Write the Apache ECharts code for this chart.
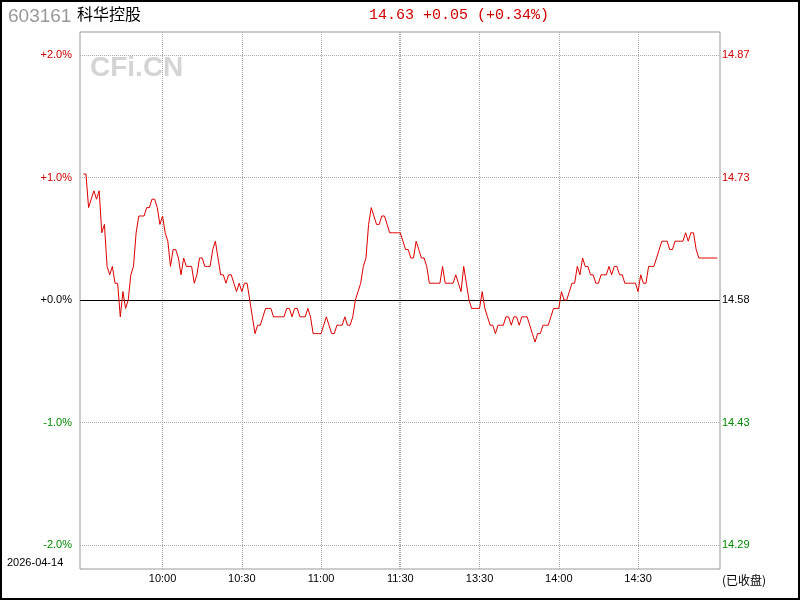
<!DOCTYPE html>
<html>
<head>
<meta charset="utf-8">
<script src="https://cdn.jsdelivr.net/npm/echarts@6/dist/echarts.min.js"></script>
<style>html,body{margin:0;padding:0;background:#fff;}#c{width:800px;height:600px;}</style>
</head>
<body>
<div id="c"></div>
<script>
// ---- data ----
var stockCode = '603161';
var stockName = '科华控股';
var tradeDate = '2026-04-14';
var prevClose = 14.58;
var lastPrice = 14.63;
var statusText = '(已收盘)';

// minute prices 09:30 - 11:30 (121 points)
var morningPrices = [
  14.73,14.73,14.69,14.70,14.71,14.70,14.71,14.66,14.67,14.62,
  14.61,14.62,14.60,14.60,14.56,14.59,14.57,14.58,14.61,14.62,
  14.66,14.68,14.68,14.68,14.69,14.69,14.70,14.70,14.69,14.67,
  14.68,14.66,14.65,14.62,14.64,14.64,14.63,14.61,14.63,14.62,
  14.62,14.62,14.60,14.61,14.63,14.63,14.62,14.62,14.62,14.64,
  14.65,14.63,14.61,14.61,14.60,14.61,14.61,14.60,14.59,14.60,
  14.59,14.60,14.60,14.58,14.56,14.54,14.55,14.55,14.56,14.57,
  14.57,14.57,14.56,14.56,14.56,14.56,14.56,14.57,14.57,14.56,
  14.57,14.57,14.56,14.56,14.56,14.57,14.56,14.54,14.54,14.54,
  14.54,14.55,14.56,14.55,14.54,14.54,14.55,14.55,14.55,14.56,
  14.55,14.55,14.56,14.58,14.59,14.60,14.62,14.63,14.67,14.69,
  14.68,14.67,14.67,14.68,14.68,14.67,14.66,14.66,14.66,14.66,
  14.66
];
// minute prices 13:01 - 15:00 (120 points)
var afternoonPrices = [
  14.65,14.64,14.64,14.63,14.63,14.65,14.64,14.63,14.63,14.62,
  14.60,14.60,14.60,14.60,14.60,14.62,14.60,14.60,14.60,14.60,
  14.61,14.60,14.59,14.62,14.60,14.58,14.57,14.57,14.57,14.57,
  14.59,14.57,14.56,14.55,14.55,14.54,14.55,14.55,14.55,14.56,
  14.56,14.55,14.56,14.56,14.55,14.56,14.56,14.56,14.55,14.54,
  14.53,14.54,14.54,14.55,14.55,14.55,14.56,14.57,14.57,14.57,
  14.59,14.58,14.58,14.59,14.60,14.60,14.62,14.61,14.63,14.62,
  14.62,14.61,14.61,14.60,14.60,14.61,14.61,14.61,14.62,14.61,
  14.62,14.62,14.61,14.61,14.60,14.60,14.60,14.60,14.60,14.59,
  14.61,14.60,14.60,14.62,14.62,14.62,14.63,14.64,14.65,14.65,
  14.65,14.64,14.64,14.65,14.65,14.65,14.65,14.66,14.65,14.66,
  14.66,14.64,14.63,14.63,14.63,14.63,14.63,14.63,14.63,14.63
];

var xTickValues = [30, 60, 90, 120, 150, 180, 210];
var xTickLabels = ['10:00', '10:30', '11:00', '11:30', '13:30', '14:00', '14:30'];
var xGridValues = [30, 60, 90, 119.62, 120, 150, 180, 210];

var pctTickValues = [2, 1, 0, -1, -2];
var pctTickLabels = ['+2.0%', '+1.0%', '+0.0%', '-1.0%', '-2.0%'];
var priceTickLabels = ['14.87', '14.73', '14.58', '14.43', '14.29'];
var gridPctValues = [2, 1, -1, -2];

// ---- build ----
var RED = '#d00000', GREEN = '#008800';
var allPrices = morningPrices.concat(afternoonPrices);
var seriesData = allPrices.map(function (p, i) {
  return [i, (p - prevClose) / prevClose * 100];
});
function tickColor(v) { return v > 0 ? RED : (v < 0 ? GREEN : '#000'); }
function idxOf(arr, v) {
  for (var k = 0; k < arr.length; k++) if (Math.abs(arr[k] - v) < 1e-6) return k;
  return -1;
}
var chg = lastPrice - prevClose;
var chgPct = chg / prevClose * 100;
var headerText = lastPrice.toFixed(2) + ' ' + (chg >= 0 ? '+' : '') + chg.toFixed(2) +
  ' (' + (chgPct >= 0 ? '+' : '') + chgPct.toFixed(2) + '%)';

var chart = echarts.init(document.getElementById('c'), null, { renderer: 'canvas' });
var yCommon = {
  type: 'value', min: -2.196, max: 2.188,
  axisLine: { show: false },
  axisTick: { show: false, customValues: gridPctValues },
};
chart.setOption({
  animation: false,
  backgroundColor: '#fff',
  grid: { left: 80, right: 80, top: 32, bottom: 31, show: true, borderColor: '#999', borderWidth: 1, backgroundColor: 'transparent' },
  xAxis: {
    type: 'value', min: -1.25, max: 241.02,
    axisLine: { show: false },
    axisTick: { show: false, customValues: xGridValues },
    splitLine: { show: true, lineStyle: { color: '#aaa', type: [1, 1], width: 1 } },
    axisLabel: {
      customValues: xTickValues,
      formatter: function (v) { var k = idxOf(xTickValues, v); return k >= 0 ? xTickLabels[k] : ''; },
      color: '#000', fontSize: 11, fontFamily: 'Liberation Sans', margin: 4
    }
  },
  yAxis: [
    Object.assign({}, yCommon, {
      position: 'left',
      splitLine: { show: true, lineStyle: { color: '#aaa', type: [1, 1], width: 1 } },
      axisLabel: {
        customValues: pctTickValues,
        formatter: function (v) { var k = idxOf(pctTickValues, v); return k >= 0 ? pctTickLabels[k] : ''; },
        color: function (v) { return tickColor(v); },
        fontSize: 11, fontFamily: 'Liberation Sans', margin: 8
      }
    }),
    Object.assign({}, yCommon, {
      position: 'right',
      splitLine: { show: false },
      axisLabel: {
        customValues: pctTickValues,
        formatter: function (v) { var k = idxOf(pctTickValues, v); return k >= 0 ? priceTickLabels[k] : ''; },
        color: function (v) { return tickColor(v); },
        fontSize: 11, fontFamily: 'Liberation Sans', margin: 2
      }
    })
  ],
  graphic: [
    { type: 'rect', shape: { x: 1, y: 1, width: 798, height: 598 }, style: { fill: 'none', stroke: '#000', lineWidth: 2 }, z: 100 },
    { type: 'text', x: 90, y: 54, style: { text: 'CFi.CN', font: 'bold 28px "Liberation Sans"', fill: '#d4d4d4' }, z: -1 },
    { type: 'text', x: 8, y: 17, style: { text: stockCode, font: '19px "Liberation Sans"', fill: '#999', verticalAlign: 'middle' } },
    { type: 'text', x: 77, y: 14, style: { text: stockName, font: '16px "Noto Sans CJK SC"', fill: '#000', verticalAlign: 'middle' } },
    { type: 'text', x: 459, y: 15, style: { text: headerText, font: '15px "Liberation Mono"', fill: RED, align: 'center', verticalAlign: 'middle' } },
    { type: 'text', x: 7, y: 563, style: { text: tradeDate, font: '11px "Liberation Sans"', fill: '#000', verticalAlign: 'middle' } },
    { type: 'text', x: 722, y: 580, style: { text: statusText, font: '12px "Noto Sans CJK SC"', fill: '#000', verticalAlign: 'middle' } }
  ],
  series: [{
    type: 'line',
    data: seriesData,
    showSymbol: false,
    symbol: 'none',
    lineStyle: { color: '#dd0000', width: 1 },
    itemStyle: { color: '#dd0000' },
    z: 3,
    markLine: {
      silent: true,
      symbol: ['none', 'none'],
      label: { show: false },
      lineStyle: { color: '#000', type: 'solid', width: 1 },
      data: [{ yAxis: 0 }],
      z: 2
    }
  }]
});
</script>
</body>
</html>
